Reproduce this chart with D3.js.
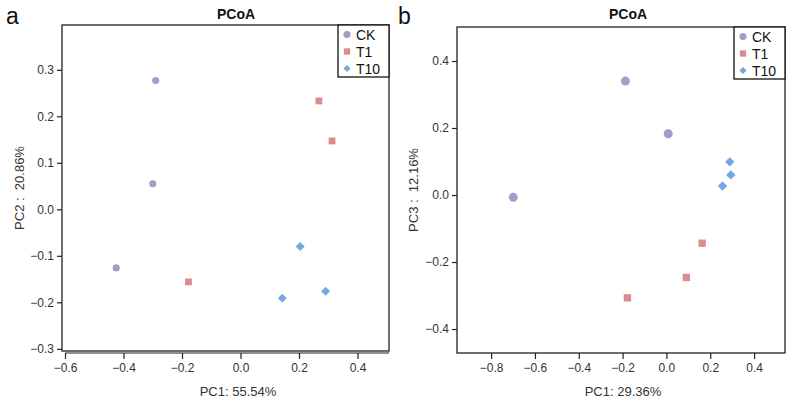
<!DOCTYPE html>
<html>
<head>
<meta charset="utf-8">
<script src="https://cdn.jsdelivr.net/npm/d3@7"></script>
<style>
body { margin: 0; background: #fff; }
svg { font-family: "Liberation Sans", Arial, sans-serif; }
</style>
</head>
<body>
<svg id="chart" width="793" height="406"></svg>
<script>
var groups = ['CK', 'T1', 'T10'];
var groupColors = ['#ab99cb', '#dc8c8f', '#75a6e4'];

// panel a : PC1 vs PC2
var aGroup = ['CK', 'CK', 'CK', 'T1', 'T1', 'T1', 'T10', 'T10', 'T10'];
var aPC1 = [-0.290, -0.300, -0.425, 0.268, 0.313, -0.178, 0.204, 0.143, 0.291];
var aPC2 = [0.277, 0.055, -0.126, 0.233, 0.147, -0.156, -0.080, -0.191, -0.176];
var aXTicks = [-0.6, -0.4, -0.2, 0.0, 0.2, 0.4];
var aYTicks = [-0.3, -0.2, -0.1, 0.0, 0.1, 0.2, 0.3];

// panel b : PC1 vs PC3
var bGroup = ['CK', 'CK', 'CK', 'T1', 'T1', 'T1', 'T10', 'T10', 'T10'];
var bPC1 = [-0.187, 0.008, -0.699, 0.163, 0.091, -0.178, 0.289, 0.294, 0.256];
var bPC3 = [0.340, 0.183, -0.007, -0.144, -0.246, -0.307, 0.099, 0.060, 0.027];
var bXTicks = [-0.8, -0.6, -0.4, -0.2, 0.0, 0.2, 0.4];
var bYTicks = [-0.4, -0.2, 0.0, 0.2, 0.4];

var svg = d3.select('#chart');
var color = d3.scaleOrdinal().domain(groups).range(groupColors);
// diamond = square turned 45 degrees
var shape = d3.scaleOrdinal().domain(groups).range([d3.symbolCircle, d3.symbolSquare, d3.symbolSquare]);
var turn = d3.scaleOrdinal().domain(groups).range([0, 0, 45]);
var fmt = d3.format('.1f');

function minusFmt(v) {
    return fmt(v).replace('-', '\u2212');
}

function drawPanel(opt) {
    var g = svg.append('g');
    var x = d3.scaleLinear().domain(opt.xDomain).range([opt.left, opt.right]);
    var y = d3.scaleLinear().domain(opt.yDomain).range([opt.bottom, opt.top]);

    // plot box
    g.append('rect')
        .attr('x', opt.left).attr('y', opt.top)
        .attr('width', opt.right - opt.left).attr('height', opt.bottom - opt.top)
        .attr('fill', 'none').attr('stroke', '#222').attr('stroke-width', 1.3);

    var xAxis = g.append('g')
        .attr('transform', 'translate(0,' + (opt.bottom + opt.xGap) + ')')
        .call(d3.axisBottom(x).tickValues(opt.xTicks).tickFormat(minusFmt).tickSize(6).tickPadding(4));
    var yAxis = g.append('g')
        .attr('transform', 'translate(' + opt.left + ',0)')
        .call(d3.axisLeft(y).tickValues(opt.yTicks).tickFormat(minusFmt).tickSize(5).tickPadding(3));
    [xAxis, yAxis].forEach(function (ax) {
        ax.select('.domain').remove();
        ax.selectAll('line').attr('stroke', '#222').attr('stroke-width', 1.2);
        ax.selectAll('text').attr('fill', '#333').style('font-size', '12px')
            .style('font-family', '"Liberation Sans", Arial, sans-serif');
    });
    if (opt.xGap > 0) {
        g.append('line')
            .attr('x1', x(opt.xTicks[0])).attr('x2', opt.right)
            .attr('y1', opt.bottom + opt.xGap).attr('y2', opt.bottom + opt.xGap)
            .attr('stroke', '#222').attr('stroke-width', 1.2);
    }

    // points
    g.selectAll('path.pt')
        .data(opt.px.map(function (d, i) { return { x: d, y: opt.py[i], grp: opt.grp[i] }; }))
        .enter()
        .append('path')
        .attr('class', 'pt')
        .attr('d', function (d) {
            var s = d.grp == 'CK' ? opt.sz[0] : (d.grp == 'T1' ? opt.sz[1] : opt.sz[2]);
            return d3.symbol().type(shape(d.grp)).size(s)();
        })
        .attr('transform', function (d) {
            return 'translate(' + x(d.x) + ',' + y(d.y) + ') rotate(' + turn(d.grp) + ')';
        })
        .attr('fill', function (d) { return color(d.grp); });

    // legend
    g.append('rect')
        .attr('x', opt.legX).attr('y', opt.top)
        .attr('width', opt.right - opt.legX).attr('height', 52)
        .attr('fill', '#fff').attr('stroke', '#111').attr('stroke-width', 1.3);
    groups.forEach(function (k, i) {
        var ly = opt.top + 9.5 + i * 17;
        g.append('path')
            .attr('d', d3.symbol().type(shape(k)).size(i == 2 ? 26 : 40)())
            .attr('transform', 'translate(' + (opt.legX + 9) + ',' + ly + ') rotate(' + turn(k) + ')')
            .attr('fill', color(k));
        g.append('text')
            .attr('x', opt.legX + 18).attr('y', ly + 5)
            .style('font-size', '14px').attr('fill', '#111')
            .text(k);
    });

    // titles
    g.append('text')
        .attr('x', opt.titleX).attr('y', 19)
        .attr('text-anchor', 'middle')
        .style('font-size', '14px').style('font-weight', 'bold').attr('fill', '#111')
        .text('PCoA');
    g.append('text')
        .attr('x', opt.tagX).attr('y', 24)
        .style('font-size', '23px').attr('fill', '#111')
        .text(opt.tag);
    g.append('text')
        .attr('x', opt.xLabX).attr('y', 396)
        .attr('text-anchor', 'middle')
        .style('font-size', '13px').attr('fill', '#333')
        .text(opt.xLab);
    g.append('text')
        .attr('transform', 'translate(' + opt.yLabX + ',' + ((opt.top + opt.bottom) / 2) + ') rotate(-90)')
        .attr('text-anchor', 'middle')
        .style('font-size', '13px').style('white-space', 'pre').attr('fill', '#333')
        .text(opt.yLab);
}

drawPanel({
    left: 62, right: 389, top: 25, bottom: 351, xGap: 2,
    xDomain: [-0.6103, 0.5077], yDomain: [-0.3047, 0.3964],
    xTicks: aXTicks, yTicks: aYTicks,
    px: aPC1, py: aPC2, grp: aGroup, sz: [40, 46, 40],
    legX: 338, titleX: 236, tagX: 6, tag: 'a',
    xLab: 'PC1: 55.54%', xLabX: 238,
    yLab: 'PC2 :  20.86%', yLabX: 24
});

drawPanel({
    left: 457, right: 785, top: 27, bottom: 353, xGap: 0,
    xDomain: [-0.9557, 0.5411], yDomain: [-0.4716, 0.5015],
    xTicks: bXTicks, yTicks: bYTicks,
    px: bPC1, py: bPC3, grp: bGroup, sz: [64, 54, 44],
    legX: 734, titleX: 628, tagX: 398, tag: 'b',
    xLab: 'PC1: 29.36%', xLabX: 623,
    yLab: 'PC3 :  12.16%', yLabX: 418
});
</script>
</body>
</html>
